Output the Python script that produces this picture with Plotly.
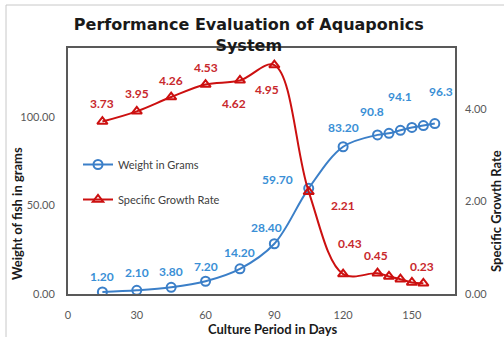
import plotly.graph_objects as go

# Culture period (days) and measurements
days = [15, 30, 45, 60, 75, 90, 105, 120, 135, 140, 145, 150, 155, 160]
weight = [1.20, 2.10, 3.80, 7.20, 14.20, 28.40, 59.70, 83.20, 89.9, 90.8, 92.5, 94.1, 95.2, 96.3]
weight_decimals = [2, 2, 2, 2, 2, 2, 2, 2, None, 1, None, 1, None, 1]
sgr_days = days[:13]
sgr = [3.73, 3.95, 4.26, 4.53, 4.62, 4.95, 2.21, 0.43, 0.45, 0.38, 0.32, 0.25, 0.23]
sgr_decimals = [2, 2, 2, 2, 2, 2, 2, 2, 2, None, None, None, 2]

x_ticks = [0, 30, 60, 90, 120, 150]
y_ticks = [0, 50, 100]
y2_ticks = [0, 2, 4]

# label offsets in pixels (dx, dy up)
weight_offsets = [(0, 15), (0, 18), (0, 16), (0, 15), (0, 16), (-8, 16), (-31, 9), (0, 19),
                  None, (-17, 22), None, (-12, 31), None, (6, 32)]
sgr_offsets = [(0, 18), (0, 18), (0, 17), (0, 17), (-6, -23), (-7, -24), (34, -14), (7, 31),
               (-2, 18), None, None, None, (-1, 17)]

BLUE = "#3b7fc8"
BLUE_TXT = "#3a8fd6"
RED = "#cc1010"
RED_TXT = "#c8282c"
FONT = "Lato"

fig = go.Figure()
fig.add_trace(go.Scatter(
    x=days, y=weight, name="Weight in Grams", mode="lines+markers",
    line=dict(color=BLUE, width=2, shape="spline", smoothing=1.0),
    marker=dict(symbol="circle-open", size=9, color=BLUE, line=dict(width=2)),
    legendgroup="w", yaxis="y",
))
fig.add_trace(go.Scatter(
    x=sgr_days, y=sgr, name="Specific Growth Rate", mode="lines+markers",
    line=dict(color=RED, width=2, shape="spline", smoothing=1.0),
    marker=dict(symbol="triangle-up-open", size=9, color=RED, line=dict(width=2)),
    legendgroup="s", yaxis="y2",
))

annotations = []
for d, v, dec, off in zip(days, weight, weight_decimals, weight_offsets):
    if dec is None:
        continue
    annotations.append(dict(x=d, y=v, xref="x", yref="y", text=f"{v:.{dec}f}", showarrow=False,
                            xshift=off[0], yshift=off[1],
                            font=dict(family=FONT, size=12, color=BLUE_TXT, weight="bold")))
for d, v, dec, off in zip(sgr_days, sgr, sgr_decimals, sgr_offsets):
    if dec is None:
        continue
    annotations.append(dict(x=d, y=v, xref="x", yref="y2", text=f"{v:.{dec}f}", showarrow=False,
                            xshift=off[0], yshift=off[1],
                            font=dict(family=FONT, size=12, color=RED_TXT, weight="bold")))

# plot-area geometry (pixels) used to place titles
L, R, T, B = 68, 455, 48, 294
W, H = R - L, B - T


def px(xp):
    return (xp - L) / W


def py(yp):
    return (B - yp) / H


title_font = dict(family=FONT, size=13, color="#1a1a1a", weight="bold")
annotations += [
    dict(x=px(272), y=py(329), xref="paper", yref="paper", text="Culture Period in Days",
         showarrow=False, xanchor="center", yanchor="middle", font=title_font),
    dict(x=px(17), y=py(213), xref="paper", yref="paper", text="Weight of fish in grams",
         showarrow=False, textangle=-90, xanchor="center", yanchor="middle", font=title_font),
    dict(x=px(496), y=py(211), xref="paper", yref="paper", text="Specific Growth Rate",
         showarrow=False, textangle=-90, xanchor="center", yanchor="middle", font=title_font),
]

shapes = [
    dict(type="line", xref="paper", yref="paper", x0=px(6), x1=px(6), y0=py(340), y1=py(5),
         line=dict(color="#c8c8c8", width=1)),
    dict(type="line", xref="paper", yref="paper", x0=px(6), x1=px(510), y0=py(5), y1=py(5),
         line=dict(color="#c8c8c8", width=1)),
]

tick_font = dict(family=FONT, size=11, color="#595959")
fig.update_layout(
    width=504, height=337, autosize=False,
    margin=dict(l=L, r=504 - R, t=T, b=337 - B),
    paper_bgcolor="white", plot_bgcolor="white",
    title=dict(text="Performance Evaluation of Aquaponics<br>System", x=px(259), xanchor="center",
               y=1 - 30 / 337, yanchor="top",
               font=dict(family="DejaVu Sans", size=16, color="#1a1a1a", weight="bold")),
    xaxis=dict(range=[0, 168.8], tickvals=x_ticks, showgrid=False, zeroline=False,
               showline=True, linecolor="#595959", linewidth=2, mirror=True,
               ticks="", tickfont=tick_font, ticklabelstandoff=10),
    yaxis=dict(range=[0, 139], tickvals=y_ticks, tickformat=".2f", showgrid=False,
               zeroline=False, showline=True, linecolor="#595959", linewidth=2, mirror=True,
               ticks="", tickfont=tick_font, ticklabelstandoff=9),
    yaxis2=dict(range=[0, 5.32], tickvals=y2_ticks, tickformat=".2f", overlaying="y",
                side="right", showgrid=False, zeroline=False, showline=False,
                ticks="", tickfont=tick_font, ticklabelstandoff=9),
    legend=dict(x=px(78), y=py(150), xanchor="left", yanchor="top", bgcolor="rgba(0,0,0,0)",
                font=dict(family=FONT, size=11, color="#404040"), tracegroupgap=16),
    showlegend=True,
    annotations=annotations,
    shapes=shapes,
)

fig.write_html("out.html")
